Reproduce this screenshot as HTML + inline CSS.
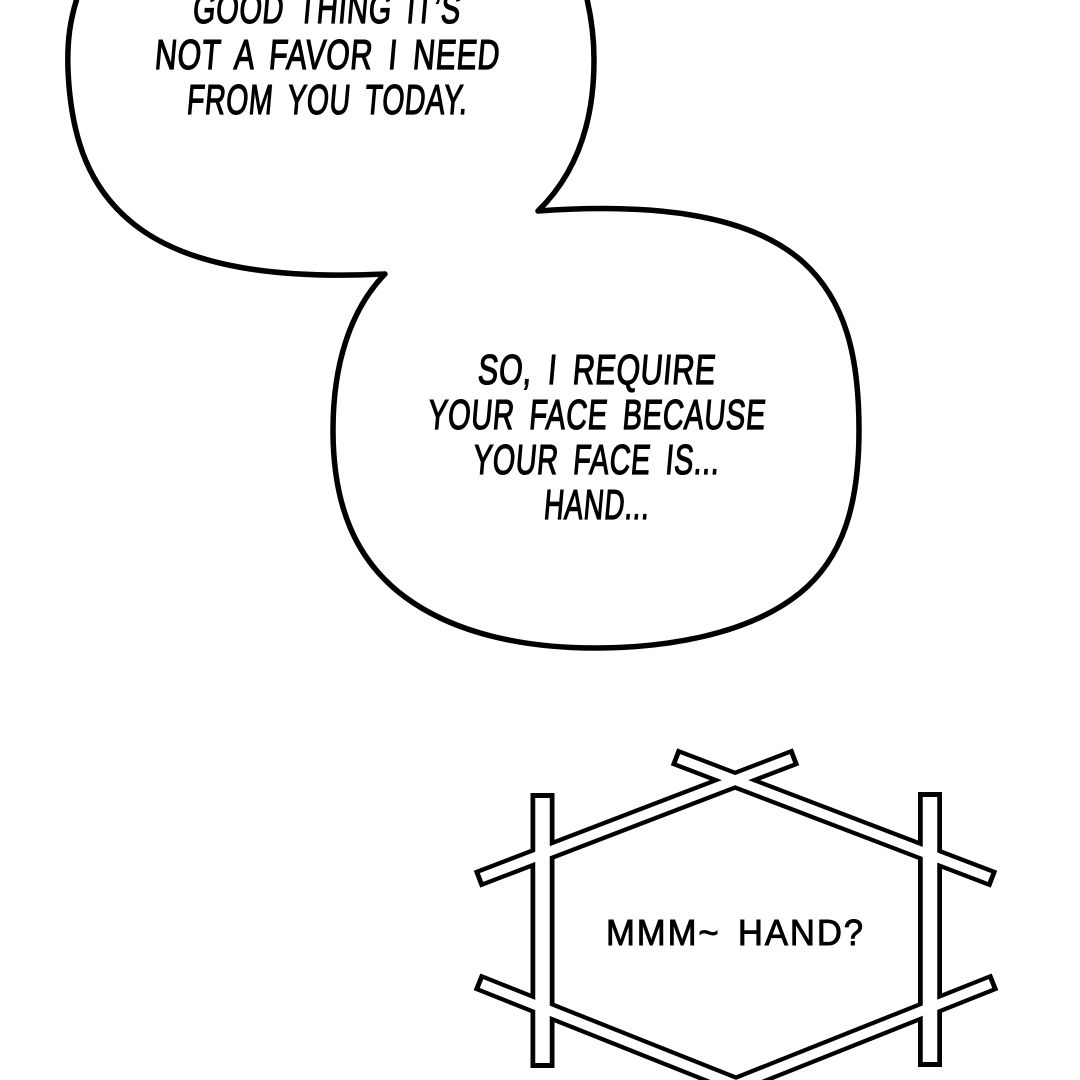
<!DOCTYPE html>
<html>
<head>
<meta charset="utf-8">
<style>
html,body{margin:0;padding:0;background:#fff;width:1080px;height:1080px;overflow:hidden}
svg{display:block}
text{font-family:"Liberation Sans",sans-serif;fill:#000;stroke:#000;stroke-width:1.3px;word-spacing:9px;letter-spacing:1px}
</style>
</head>
<body>
<svg width="1080" height="1080" viewBox="0 0 1080 1080" xmlns="http://www.w3.org/2000/svg">
<rect width="1080" height="1080" fill="#fff"/>
<path d="M78 -5 C70 20 67 40 68 70 C71 140 90 190 135 225 C190 268 280 279 385 274 C350 310 333 365 333 430 C333 505 355 560 405 597 C455 634 525 648 595 648 C665 648 748 635 800 593 C843 558 859 505 859 430 C859 355 845 300 803 262 C748 213 650 203 538 211 C575 175 594 125 594 60 C594 35 591 15 586 -5" fill="#fff" stroke="#000" stroke-width="5.5" stroke-linejoin="round"/>
<g font-size="42">
<text transform="translate(192,23) skewX(-5)" textLength="268" lengthAdjust="spacingAndGlyphs">GOOD THING IT’S</text>
<text transform="translate(154,69) skewX(-5)" textLength="345" lengthAdjust="spacingAndGlyphs">NOT A FAVOR I NEED</text>
<text transform="translate(186,114) skewX(-5)" textLength="281" lengthAdjust="spacingAndGlyphs">FROM YOU TODAY.</text>
<text transform="translate(477,384) skewX(-5)" textLength="238" lengthAdjust="spacingAndGlyphs">SO, I REQUIRE</text>
<text transform="translate(427,429) skewX(-5)" textLength="338" lengthAdjust="spacingAndGlyphs">YOUR FACE BECAUSE</text>
<text transform="translate(472,474) skewX(-5)" textLength="247" lengthAdjust="spacingAndGlyphs">YOUR FACE IS...</text>
<text transform="translate(543,519) skewX(-5)" textLength="106" lengthAdjust="spacingAndGlyphs">HAND...</text>
</g>
<g fill="none" stroke-linecap="butt">
<g stroke="#000">
<path d="M542.5 793V1068M930 792V1067" stroke-width="24"/>
<path d="M477 879.2L796 756.8M674 756.8L994 879.2M477 981.8L736 1085M995 981.8L736 1085" stroke-width="18"/>
</g>
<g stroke="#fff">
<path d="M542.5 798V1063M930 797V1062" stroke-width="14.5"/>
<path d="M481.5 877.5L791.5 758.5M678.5 758.5L989.5 877.5M481.5 983.6L736 1085M990.5 983.6L736 1085" stroke-width="9.5"/>
</g>
</g>
<text x="606" y="945" font-size="36" textLength="259" lengthAdjust="spacingAndGlyphs" style="stroke-width:.9px;word-spacing:6px;letter-spacing:2px">MMM~ HAND?</text>
</svg>
</body>
</html>
